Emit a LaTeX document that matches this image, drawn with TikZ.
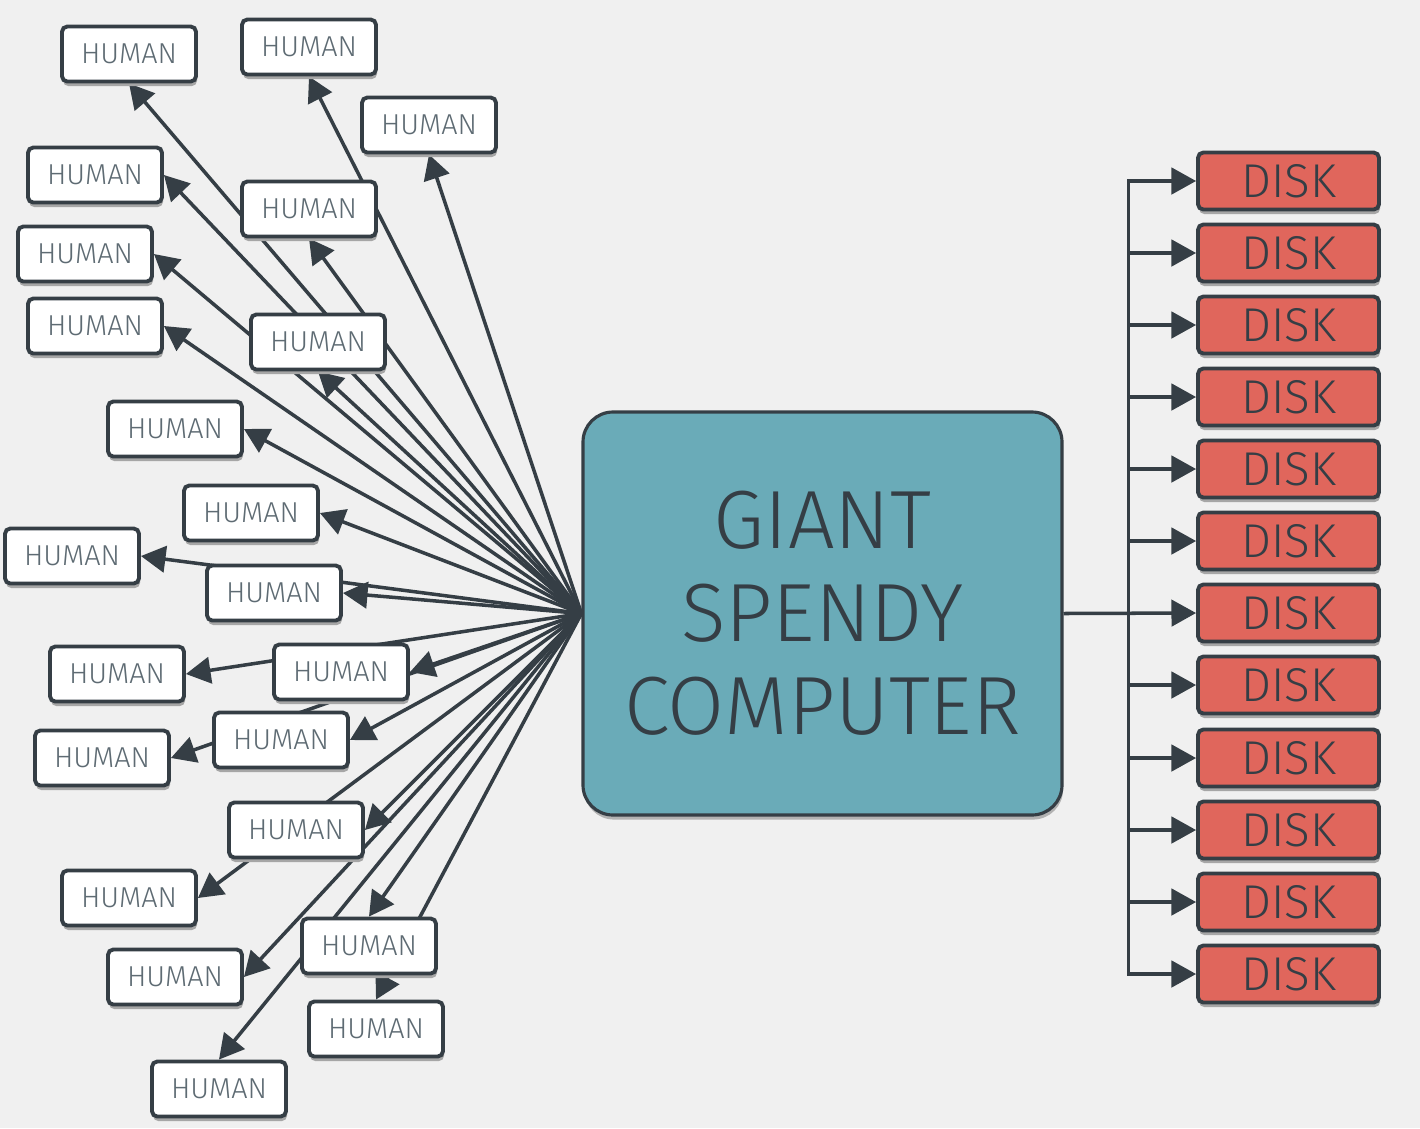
\documentclass[tikz,border=0pt]{standalone}
\usepackage{fontspec}
\setmainfont{Fira Sans Light}
\usetikzlibrary{shapes.geometric, arrows.meta, shadows, backgrounds}

\definecolor{bgcol}{HTML}{F0F0F0}
\definecolor{linecol}{HTML}{353E45}
\definecolor{humantext}{HTML}{5E6B73}
\definecolor{compfill}{HTML}{6AABB8}
\definecolor{diskfill}{HTML}{E0665C}

\begin{document}
\begin{tikzpicture}
    \tikzstyle{human} = [rectangle, rounded corners=1.5pt, minimum width=1.34cm, minimum height=0.55cm, text centered, draw=linecol, line width=1.1pt, fill=white, text=humantext, font=\fontsize{8.2}{9}\selectfont, drop shadow={shadow xshift=0.3pt, shadow yshift=-1.3pt, fill=black!35, opacity=1}]
    \tikzstyle{disk} = [rectangle, rounded corners=1.5pt, minimum width=1.81cm, minimum height=0.56cm, text centered, draw=linecol, line width=1.1pt, fill=diskfill, text=linecol, font=\fontsize{13.5}{15}\selectfont, drop shadow={shadow xshift=0.3pt, shadow yshift=-1.3pt, fill=black!35, opacity=1}]
    \tikzstyle{computer} = [rectangle, rounded corners=0.3cm, minimum width=4.79cm, minimum height=4.03cm, align=center, draw=linecol, line width=0.9pt, fill=compfill, text=linecol, font=\fontsize{23.5}{26.5}\selectfont, drop shadow={shadow xshift=0.3pt, shadow yshift=-1.3pt, fill=black!30, opacity=1}]
    \tikzstyle{arrow} = [line width=1pt, draw=linecol, -{Triangle[length=7pt, width=7.5pt]}]

    \begin{pgfonlayer}{background}
      \fill [bgcol] (0,0) rectangle (14.2,-11.28);
    \end{pgfonlayer}
    \useasboundingbox (0,0) rectangle (14.2,-11.28);

    \node (comp) [computer] at (8.225,-6.135) {GIANT\\SPENDY\\COMPUTER};

    \node (h1) [human] at (1.29,-0.54) {HUMAN};
    \node (h2) [human] at (3.09,-0.47) {HUMAN};
    \node (h3) [human] at (4.29,-1.25) {HUMAN};
    \node (h4) [human] at (0.95,-1.75) {HUMAN};
    \node (h5) [human] at (3.09,-2.09) {HUMAN};
    \node (h6) [human] at (0.85,-2.54) {HUMAN};
    \node (h7) [human] at (0.95,-3.26) {HUMAN};
    \node (h8) [human] at (3.18,-3.42) {HUMAN};
    \node (h9) [human] at (1.75,-4.29) {HUMAN};
    \node (h10) [human] at (2.51,-5.13) {HUMAN};
    \node (h11) [human] at (0.72,-5.56) {HUMAN};
    \node (h12) [human] at (2.74,-5.93) {HUMAN};
    \node (h13) [human] at (1.17,-6.74) {HUMAN};
    \node (h14) [human] at (3.41,-6.72) {HUMAN};
    \node (h15) [human] at (1.02,-7.58) {HUMAN};
    \node (h16) [human] at (2.81,-7.40) {HUMAN};
    \node (h17) [human] at (2.96,-8.30) {HUMAN};
    \node (h18) [human] at (1.29,-8.98) {HUMAN};
    \node (h19) [human] at (1.75,-9.77) {HUMAN};
    \node (h20) [human] at (3.69,-9.46) {HUMAN};
    \node (h21) [human] at (3.76,-10.29) {HUMAN};
    \node (h22) [human] at (2.19,-10.89) {HUMAN};

    \node (d1) [disk] at (12.885,-1.81) {DISK};
    \node (d2) [disk] at (12.885,-2.53) {DISK};
    \node (d3) [disk] at (12.885,-3.25) {DISK};
    \node (d4) [disk] at (12.885,-3.97) {DISK};
    \node (d5) [disk] at (12.885,-4.69) {DISK};
    \node (d6) [disk] at (12.885,-5.41) {DISK};
    \node (d7) [disk] at (12.885,-6.13) {DISK};
    \node (d8) [disk] at (12.885,-6.85) {DISK};
    \node (d9) [disk] at (12.885,-7.58) {DISK};
    \node (d10) [disk] at (12.885,-8.30) {DISK};
    \node (d11) [disk] at (12.885,-9.02) {DISK};
    \node (d12) [disk] at (12.885,-9.74) {DISK};

    % lines sit behind the boxes
    \begin{pgfonlayer}{background}
    \draw [arrow] (comp.west) -- (h1.south);
    \draw [arrow] (comp.west) -- (h2.south);
    \draw [arrow] (comp.west) -- (h3.south);
    \draw [arrow] (comp.west) -- (h4.east);
    \draw [arrow] (comp.west) -- (h5.south);
    \draw [arrow] (comp.west) -- (h6.east);
    \draw [arrow] (comp.west) -- (h7.east);
    \draw [arrow] (comp.west) -- (h8.south);
    \draw [arrow] (comp.west) -- (h9.east);
    \draw [arrow] (comp.west) -- (h10.east);
    \draw [arrow] (comp.west) -- (h11.east);
    \draw [arrow] (comp.west) -- (h12.east);
    \draw [arrow] (comp.west) -- (h13.east);
    \draw [arrow] (comp.west) -- (h14.east);
    \draw [arrow] (comp.west) -- (h15.east);
    \draw [arrow] (comp.west) -- (h16.east);
    \draw [arrow] (comp.west) -- (h17.east);
    \draw [arrow] (comp.west) -- (h18.east);
    \draw [arrow] (comp.west) -- (h19.east);
    \draw [arrow] (comp.west) -- (h20.north);
    \draw [arrow] (comp.west) -- (h21.north);
    \draw [arrow] (comp.west) -- (h22.north);

    \draw [arrow] (comp.east) -- ++(0.65,0) |- (d1.west);
    \draw [arrow] (comp.east) -- ++(0.65,0) |- (d2.west);
    \draw [arrow] (comp.east) -- ++(0.65,0) |- (d3.west);
    \draw [arrow] (comp.east) -- ++(0.65,0) |- (d4.west);
    \draw [arrow] (comp.east) -- ++(0.65,0) |- (d5.west);
    \draw [arrow] (comp.east) -- ++(0.65,0) |- (d6.west);
    \draw [arrow] (comp.east) -- (d7.west);
    \draw [arrow] (comp.east) -- ++(0.65,0) |- (d8.west);
    \draw [arrow] (comp.east) -- ++(0.65,0) |- (d9.west);
    \draw [arrow] (comp.east) -- ++(0.65,0) |- (d10.west);
    \draw [arrow] (comp.east) -- ++(0.65,0) |- (d11.west);
    \draw [arrow] (comp.east) -- ++(0.65,0) |- (d12.west);
    \end{pgfonlayer}
\end{tikzpicture}
\end{document}
